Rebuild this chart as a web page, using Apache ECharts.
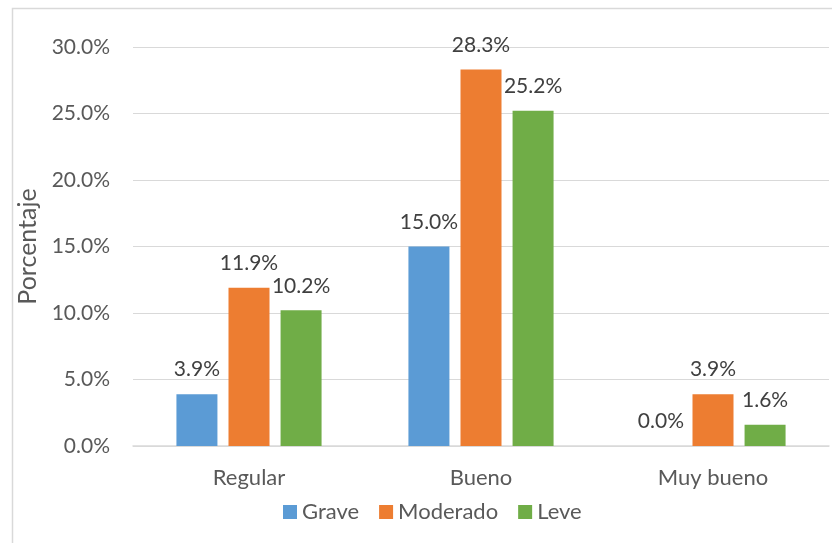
<!DOCTYPE html>
<html>
<head>
<meta charset="utf-8">
<script src="https://cdn.jsdelivr.net/npm/echarts@6/dist/echarts.min.js"></script>
<style>
  html, body { margin: 0; padding: 0; background: #fff; }
  #chart { width: 832px; height: 543px; }
</style>
</head>
<body>
<div id="chart"></div>
<script>
  // datos (porcentaje)
  var categories = ['Regular', 'Bueno', 'Muy bueno']
  var grave = [3.9, 15.0, 0.0]
  var moderado = [11.9, 28.3, 3.9]
  var leve = [10.2, 25.2, 1.6]
  var seriesNames = ['Grave', 'Moderado', 'Leve']
  var colors = ['#5B9BD5', '#ED7D31', '#70AD47']

  var font = 'Lato, "Open Sans", sans-serif'
  var textColor = '#595959'

  function pct(v) {
    return v.toFixed(1) + '%'
  }

  function barSeries(name, data, color) {
    return {
      name: name,
      type: 'bar',
      data: data,
      barWidth: 41,
      barGap: '27%',
      itemStyle: { color: color },
      label: {
        show: true,
        position: 'top',
        distance: 14,
        color: '#404040',
        fontSize: 21,
        fontFamily: font,
        formatter: function (p) { return pct(p.value) }
      }
    }
  }

  var chart = echarts.init(document.getElementById('chart'))
  var option = {
    animation: false,
    textStyle: { fontFamily: font },
    graphic: [{
      type: 'rect',
      left: 10,
      top: 6,
      shape: { width: 900, height: 600 },
      style: { fill: 'none', stroke: '#D9D9D9', lineWidth: 1.5 },
      z: -1
    }],
    grid: { left: 133, right: 3, top: 47, bottom: 97 },
    legend: {
      data: seriesNames,
      left: 278,
      top: 496,
      icon: 'rect',
      itemWidth: 14,
      itemHeight: 14,
      itemGap: 20,
      textStyle: { color: textColor, fontSize: 22, fontFamily: font }
    },
    xAxis: {
      type: 'category',
      data: categories,
      axisTick: { show: false },
      axisLine: { lineStyle: { color: '#D9D9D9', width: 1.5 } },
      axisLabel: { color: textColor, fontSize: 22, fontFamily: font, margin: 21 }
    },
    yAxis: {
      type: 'value',
      min: 0,
      max: 30,
      interval: 5,
      name: 'Porcentaje',
      nameLocation: 'middle',
      nameGap: 90,
      nameTextStyle: { color: textColor, fontSize: 25, fontFamily: font },
      axisLine: { show: false },
      axisTick: { show: false },
      splitLine: { lineStyle: { color: '#D9D9D9', width: 1.2 } },
      axisLabel: {
        color: textColor, fontSize: 21, fontFamily: font, margin: 23,
        formatter: function (v) { return pct(v) }
      }
    },
    series: [
      barSeries(seriesNames[0], grave, colors[0]),
      barSeries(seriesNames[1], moderado, colors[1]),
      barSeries(seriesNames[2], leve, colors[2])
    ]
  }
  chart.setOption(option)
</script>
</body>
</html>
